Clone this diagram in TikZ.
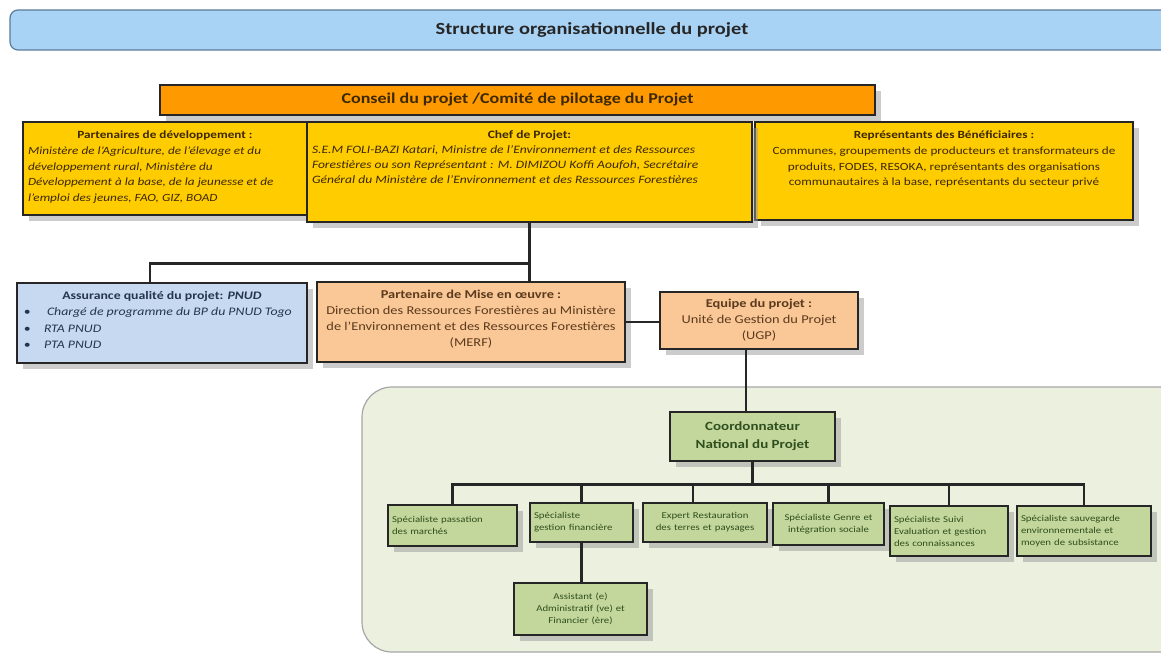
\documentclass[tikz,border=0pt]{standalone}
\usepackage{fontspec}
\setmainfont{Carlito}[FakeStretch=1.2]
\usepackage{xcolor}
\usepackage{tikz}
\usetikzlibrary{shadows, calc, positioning}

\definecolor{titleblue}{HTML}{A9D3F5}
\definecolor{titleline}{HTML}{5B7B9A}
\definecolor{orangebox}{HTML}{FF9900}
\definecolor{yellowbox}{HTML}{FFCC00}
\definecolor{bluebox}{HTML}{C6D9F0}
\definecolor{peachbox}{HTML}{FAC896}
\definecolor{greenpanel}{HTML}{EBF1DE}
\definecolor{greenbox}{HTML}{C3D69B}
\definecolor{browntext}{HTML}{3C2800}
\definecolor{bluetext}{HTML}{253550}
\definecolor{peachtext}{HTML}{5B3A1E}
\definecolor{greentext}{HTML}{2F4F1F}

\begin{document}
\begin{tikzpicture}[x=1pt, y=-1pt,
    box/.style={draw=black!85, line width=2.6pt, inner sep=5pt,
      drop shadow={shadow xshift=6pt, shadow yshift=-6pt, fill=black!40, opacity=0.5}},
    yellowcell/.style={box, fill=yellowbox, text=browntext},
    bluecell/.style={box, fill=bluebox, text=bluetext, font=\fontsize{11.5}{16.5}\selectfont},
    peachcell/.style={box, fill=peachbox, text=peachtext, font=\fontsize{12}{16}\selectfont},
    greencell/.style={box, fill=greenbox, text=greentext, inner sep=4pt,
      font=\fontsize{9}{12}\selectfont},
    link/.style={line width=2.6pt, black!85}]

    \useasboundingbox (0,0) rectangle (1161,655);

    % Title bar
    \node[draw=titleline, line width=1.2pt, fill=titleblue, rounded corners=8pt,
      minimum width=1164pt, minimum height=40pt, text=black!85,
      font=\fontsize{17}{19}\selectfont\bfseries] (title) at (592,30)
      {Structure organisationnelle du projet};

    % Comite de pilotage
    \node[box, fill=orangebox, text=browntext, minimum width=715pt, minimum height=30pt,
      font=\fontsize{15}{17}\selectfont\bfseries] (conseil) at (517.5,100)
      {Conseil du projet /Comité de pilotage du Projet};

    \node[yellowcell] (partenaires) at (165,168.5)
      {\parbox[t][83pt][t]{274pt}{\fontsize{11}{15.7}\selectfont\vspace*{4pt}
        \centering\textbf{Partenaires de développement :}\par
        \raggedright\itshape Ministère de l'Agriculture, de l'élevage et du\\
        développement rural, Ministère du\\
        Développement à la base, de la jeunesse et de\\
        l'emploi des jeunes, FAO, GIZ, BOAD}};

    \node[yellowcell] (representants) at (944,171)
      {\parbox[t][88pt][t]{368pt}{\fontsize{11}{15.7}\selectfont\vspace*{4pt}
        \centering\textbf{Représentants des Bénéficiaires :}\par
        Communes, groupements de producteurs et transformateurs de\\
        produits, FODES, RESOKA, représentants des organisations\\
        communautaires à la base, représentants du secteur privé}};

    \node[yellowcell] (chef) at (529.5,172)
      {\parbox[t][90pt][t]{435pt}{\fontsize{11.3}{14.8}\selectfont\vspace*{4pt}
        \centering\textbf{Chef de Projet:}\par
        \raggedright\itshape S.E.M FOLI-BAZI Katari, Ministre de l'Environnement et des Ressources\\
        Forestières ou son Représentant : M. DIMIZOU Koffi Aoufoh, Secrétaire\\
        Général du Ministère de l'Environnement et des Ressources Forestières}};

    % Second niveau
    \node[bluecell] (assurance) at (162,323)
      {\parbox[t][70pt][t]{280pt}{\vspace*{3pt}\centering
        \textbf{Assurance qualité du projet: \textit{PNUD}}\par\raggedright
        \makebox[22pt][l]{\,\textbullet}\hspace{3pt}\textit{Chargé de programme du BP du PNUD Togo}\\
        \makebox[22pt][l]{\,\textbullet}\textit{RTA PNUD}\\
        \makebox[22pt][l]{\,\textbullet}\textit{PTA PNUD}}};

    \node[peachcell] (miseoeuvre) at (471,322)
      {\parbox[t][70pt][t]{298pt}{\vspace*{3pt}\centering
        \textbf{Partenaire de Mise en œuvre :}\\
        Direction des Ressources Forestières au Ministère\\
        de l'Environnement et des Ressources Forestières\\
        (MERF)}};

    \node[peachcell] (equipe) at (759,320.5)
      {\parbox[t][47pt][t]{188pt}{\vspace*{2pt}\centering
        \textbf{Equipe du projet :}\\
        Unité de Gestion du Projet\\
        (UGP)}};

    % Unite de gestion
    \filldraw[draw=black!35, line width=1.2pt, fill=greenpanel, rounded corners=30pt]
      (362,387) rectangle (1200,652);

    \node[greencell, minimum width=165pt, minimum height=49pt, align=center,
      font=\fontsize{12.5}{18}\selectfont\bfseries] (coord) at (752.5,436.5)
      {Coordonnateur\\National du Projet};

    \node[greencell, minimum width=129pt, minimum height=41pt, text width=121pt, align=left]
      (g1) at (452.5,525.5) {Spécialiste passation\\des marchés};
    \node[greencell, minimum width=103pt, minimum height=39pt, text width=95pt, align=left]
      (g2) at (581.5,522.5) {Spécialiste\\gestion financière};
    \node[greencell, minimum width=124pt, minimum height=39pt, text width=116pt, align=center]
      (g3) at (705,522.5) {Expert Restauration\\des terres et paysages};
    \node[greencell, minimum width=111pt, minimum height=42pt, text width=103pt, align=center]
      (g4) at (828.5,524) {Spécialiste Genre et\\intégration sociale};
    \node[greencell, minimum width=118pt, minimum height=50pt, text width=110pt, align=left]
      (g5) at (949,531) {Spécialiste Suivi\\Evaluation et gestion\\des connaissances};
    \node[greencell, minimum width=134pt, minimum height=50pt, text width=126pt, align=left]
      (g6) at (1084,531) {Spécialiste sauvegarde\\environnementale et\\moyen de subsistance};
    \node[greencell, minimum width=133pt, minimum height=52pt, text width=125pt, align=center]
      (assistant) at (580.5,609) {Assistant (e)\\Administratif (ve) et\\Financier (ère)};

    % Liaisons
    \coordinate (split) at ($(chef.south)+(0,40)$);
    \draw[link] (chef.south) -- (chef.south |- miseoeuvre.north);
    \draw[link] (split) -| ($(assurance.north)+(-12,0)$);
    \draw[link] (miseoeuvre.east) -- (miseoeuvre.east -| equipe.west);
    \draw[link] ($(equipe.south)+(-13,0)$) -- ($(equipe.south |- coord.north)+(-13,0)$);

    \coordinate (bus) at ($(coord.south)+(0,22)$);
    \draw[link] (coord.south) -- (bus);
    \foreach \g in {g1, g2, g4, g5, g6}
      \draw[link] (bus) -| (\g.north);
    \draw[link] (bus) -| ($(g3.north)+(-12,0)$);
    \draw[link] (g2.south) -- (g2.south |- assistant.north);
\end{tikzpicture}
\end{document}
